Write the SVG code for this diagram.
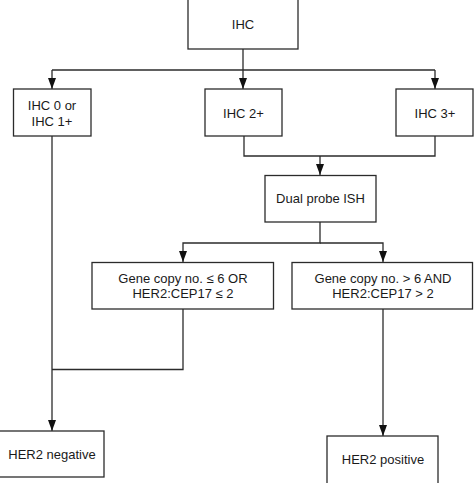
<svg xmlns="http://www.w3.org/2000/svg" width="474" height="483" viewBox="0 0 474 483">
<defs>
<style>
.box{fill:#fff;stroke:#2b2b2b;stroke-width:1.3}
.ln{fill:none;stroke:#2b2b2b;stroke-width:1.3}
text{font-family:"Liberation Sans",Arial,sans-serif;font-size:13px;fill:#1a1a1a;text-anchor:middle}
</style>
<marker id="ah" viewBox="0 0 11 8" refX="11" refY="4" markerWidth="11" markerHeight="8" markerUnits="userSpaceOnUse" orient="auto">
<path d="M0,0 L11,4 L0,8 Z" fill="#111"/>
</marker>
</defs>
<rect width="474" height="483" fill="#fff"/>
<g id="connectors">
<path class="ln" d="M243,49 V70"/>
<path class="ln" d="M52,70 H435"/>
<path class="ln" d="M52,70 V89" marker-end="url(#ah)"/>
<path class="ln" d="M243,70 V89" marker-end="url(#ah)"/>
<path class="ln" d="M435,70 V89" marker-end="url(#ah)"/>
<path class="ln" d="M244,136 V156 H435 V136"/>
<path class="ln" d="M320,156 V175" marker-end="url(#ah)"/>
<path class="ln" d="M320,222 V243 H183 V262" marker-end="url(#ah)"/>
<path class="ln" d="M320,243 H383 V262" marker-end="url(#ah)"/>
<path class="ln" d="M183,309 V369.5 H52"/>
<path class="ln" d="M52,136 V431" marker-end="url(#ah)"/>
<path class="ln" d="M383,309 V436" marker-end="url(#ah)"/>
</g>
<g id="ihc"><rect class="box" x="188" y="-2" width="110" height="51"/><text x="243" y="29">IHC</text></g>
<g id="ihc01"><rect class="box" x="13.5" y="89" width="77.5" height="47"/><text x="52" y="110">IHC 0 or</text><text x="52" y="125.5">IHC 1+</text></g>
<g id="ihc2"><rect class="box" x="205" y="89" width="77" height="47"/><text x="243.5" y="117.5">IHC 2+</text></g>
<g id="ihc3"><rect class="box" x="396" y="89" width="77" height="47"/><text x="435" y="117.5">IHC 3+</text></g>
<g id="ish"><rect class="box" x="265" y="175.5" width="111" height="46.5"/><text x="320.5" y="203">Dual probe ISH</text></g>
<g id="neg-cond"><rect class="box" x="92" y="262.5" width="181.5" height="46.5"/><text x="183" y="283">Gene copy no. ≤ 6 OR</text><text x="183" y="298">HER2:CEP17 ≤ 2</text></g>
<g id="pos-cond"><rect class="box" x="292" y="262.5" width="180.5" height="46.5"/><text x="383" y="283">Gene copy no. &gt; 6 AND</text><text x="383" y="298">HER2:CEP17 &gt; 2</text></g>
<g id="neg"><rect class="box" x="-1" y="431" width="105" height="46"/><text x="52" y="459">HER2 negative</text></g>
<g id="pos"><rect class="box" x="327" y="436" width="111" height="55"/><text x="383" y="464">HER2 positive</text></g>
</svg>
